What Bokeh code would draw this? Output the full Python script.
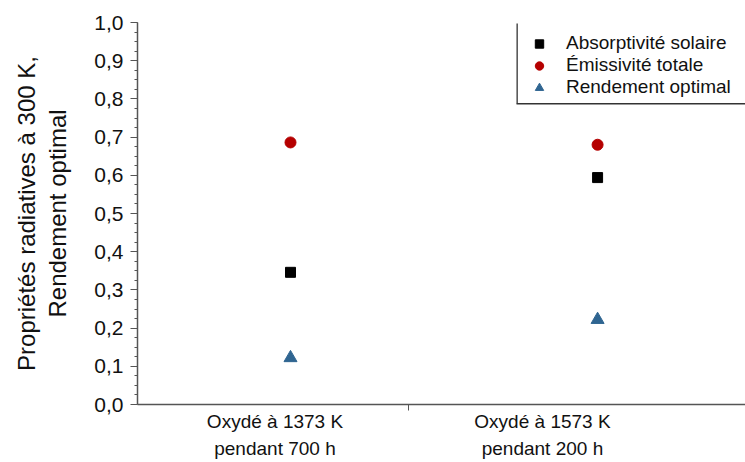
from bokeh.plotting import figure
from bokeh.models import FixedTicker, Legend, LegendItem, BoxAnnotation
from bokeh.embed import file_html
from bokeh.resources import INLINE

# ---- data ----
categories = ["Oxydé à 1373 K\npendant 700 h", "Oxydé à 1573 K\npendant 200 h"]
cat_pos = [1.0, 2.0]
marker_x = [1.058, 2.206]
absorptivite = [0.346, 0.594]
emissivite = [0.686, 0.680]
rendement = [0.122, 0.222]
y_ticks = [0.0, 0.1, 0.2, 0.3, 0.4, 0.5, 0.6, 0.7, 0.8, 0.9, 1.0]
y_tick_labels = ["0,0", "0,1", "0,2", "0,3", "0,4", "0,5", "0,6", "0,7", "0,8", "0,9", "1,0"]
y_minor = [i / 40 for i in range(41)]

FONT = "Liberation Sans"
AX = "#555555"

p = figure(width=745, height=462, output_backend="svg", toolbar_location=None,
           x_range=(0.486, 2.759), y_range=(0.0, 1.0),
           min_border_left=137, min_border_right=0, min_border_top=22, min_border_bottom=58)
p.outline_line_color = None
p.grid.visible = False
p.background_fill_color = "white"
p.border_fill_color = "white"

# y axis
ya = p.yaxis[0]
ya.ticker = FixedTicker(ticks=y_ticks, minor_ticks=y_minor)
ya.major_label_overrides = {t: l for t, l in zip(y_ticks, y_tick_labels)}
ya.axis_label = "Propriétés radiatives à 300 K,\nRendement optimal"
ya.axis_label_text_font = FONT
ya.axis_label_text_font_size = "24px"
ya.axis_label_text_font_style = "normal"
ya.axis_label_text_color = "#111111"
ya.axis_label_text_line_height = 1.17
ya.axis_label_standoff = 20
ya.major_label_text_font = FONT
ya.major_label_text_font_size = "21px"
ya.major_label_text_color = "#111111"
ya.major_label_standoff = 7
ya.major_tick_out = 7
ya.major_tick_in = 0
ya.minor_tick_out = 3
ya.minor_tick_in = 0
ya.axis_line_color = AX
ya.major_tick_line_color = AX
ya.minor_tick_line_color = AX
ya.axis_line_width = 1.5

# x axis
xa = p.xaxis[0]
xa.ticker = FixedTicker(ticks=cat_pos, minor_ticks=[1.5])
xa.major_label_overrides = {t: l for t, l in zip(cat_pos, categories)}
xa.major_label_text_font = FONT
xa.major_label_text_font_size = "19px"
xa.major_label_text_color = "#111111"
xa.major_label_text_line_height = 1.3
xa.major_label_standoff = 0
xa.major_tick_out = 0
xa.major_tick_in = 0
xa.minor_tick_out = 6
xa.minor_tick_in = 0
xa.axis_line_color = AX
xa.minor_tick_line_color = AX
xa.axis_line_width = 1.5

r1 = p.scatter(marker_x, absorptivite, marker="square", size=10, color="black")
r2 = p.scatter(marker_x, emissivite, marker="circle", size=11, color="#B50000")
r3 = p.scatter(marker_x, rendement, marker="triangle", size=13, color="#2F6591")

legend = Legend(items=[
    LegendItem(label="Absorptivité solaire", renderers=[r1]),
    LegendItem(label="Émissivité totale", renderers=[r2]),
    LegendItem(label="Rendement optimal", renderers=[r3]),
], location=(388, 306))
legend.label_text_font = FONT
legend.label_text_font_size = "19px"
legend.label_text_color = "#111111"
legend.label_text_line_height = 1.1
legend.label_height = 21
legend.glyph_height = 21
legend.glyph_width = 28
legend.label_standoff = 13
legend.spacing = 0
legend.padding = 9
legend.margin = 0
legend.border_line_color = None
legend.background_fill_alpha = 0
p.add_layout(legend, "center")

# legend frame (left and bottom sides only), in screen px relative to the frame
p.add_layout(BoxAnnotation(left=379, right=380.3, top=381, bottom=301,
                           left_units="screen", right_units="screen",
                           top_units="screen", bottom_units="screen",
                           fill_color="#333333", fill_alpha=1, line_color=None))
p.add_layout(BoxAnnotation(left=379, right=610, top=301.5, bottom=300,
                           left_units="screen", right_units="screen",
                           top_units="screen", bottom_units="screen",
                           fill_color="#333333", fill_alpha=1, line_color=None))

open("out.html", "w").write(file_html(p, INLINE))
